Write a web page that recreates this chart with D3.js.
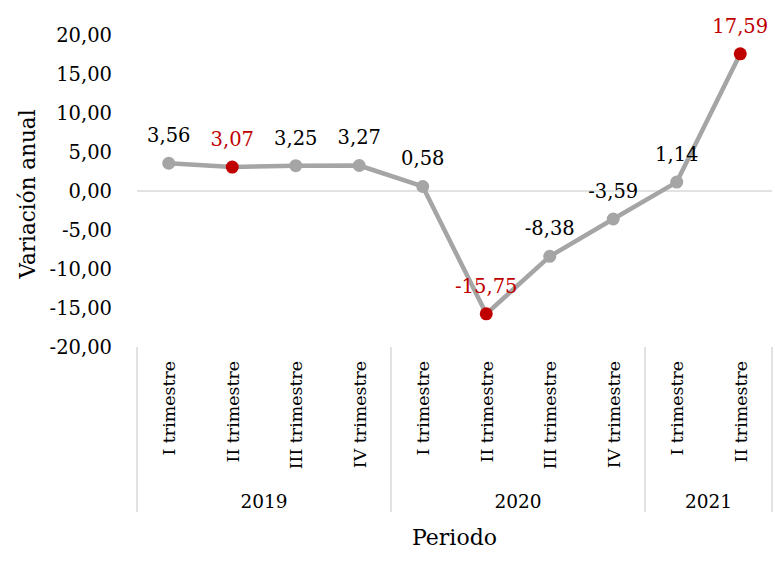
<!DOCTYPE html>
<html>
<head>
<meta charset="utf-8">
<script src="https://cdn.jsdelivr.net/npm/d3@7"></script>
<style>
  body { margin: 0; background: #fff; }
  text { font-family: "DejaVu Serif", serif; fill: #000; }
</style>
</head>
<body>
<script>
(function() {

    //chart data
    var quarters = ["I trimestre", "II trimestre", "III trimestre", "IV trimestre",
                    "I trimestre", "II trimestre", "III trimestre", "IV trimestre",
                    "I trimestre", "II trimestre"];
    var years = ["2019", "2020", "2021"];
    var yearCounts = [4, 4, 2];
    var values = [3.56, 3.07, 3.25, 3.27, 0.58, -15.75, -8.38, -3.59, 1.14, 17.59];
    var highlighted = [1, 5, 9]; //points drawn in red
    var yTicks = [20, 15, 10, 5, 0, -5, -10, -15, -20];

    var width = 775, height = 561;
    var left = 137, right = 772, top = 35, bottom = 347;

    var svg = d3.select("body")
        .append("svg")
        .attr("width", width)
        .attr("height", height);

    var fmt = function(v){ return d3.format(".2f")(v).replace(".", ",").replace("−", "-"); };

    //scales
    var x = d3.scaleBand()
        .domain(d3.range(values.length))
        .range([left, right]);

    var y = d3.scaleLinear()
        .domain([-20, 20])
        .range([bottom, top]);

    //y axis labels
    var yAxis = d3.axisLeft(y)
        .tickValues(yTicks)
        .tickSize(0)
        .tickPadding(0)
        .tickFormat(fmt);

    var ya = svg.append("g")
        .attr("transform", "translate(112,0)")
        .call(yAxis);
    ya.select(".domain").remove();
    ya.selectAll("text")
        .style("font-family", "DejaVu Serif")
        .style("font-size", "19.5px")
        .attr("dy", "0.35em");

    //zero line
    svg.append("line")
        .attr("x1", left).attr("x2", right)
        .attr("y1", y(0)).attr("y2", y(0))
        .style("stroke", "#d9d9d9")
        .style("stroke-width", 1.5);

    //group separators
    var bounds = [0];
    yearCounts.forEach(function(c, i){ bounds.push(bounds[i] + c); });
    var step = x.step();

    svg.selectAll(".sep")
        .data(bounds)
        .enter()
        .append("line")
        .attr("class", "sep")
        .attr("x1", function(d){ return left + d * step; })
        .attr("x2", function(d){ return left + d * step; })
        .attr("y1", bottom)
        .attr("y2", 512)
        .style("stroke", "#d9d9d9")
        .style("stroke-width", 1.5);

    //quarter labels
    svg.selectAll(".q")
        .data(quarters)
        .enter()
        .append("text")
        .attr("class", "q")
        .attr("transform", function(d, i){
            return "translate(" + (x(i) + step / 2 + 6.5) + ",361) rotate(-90)";
        })
        .attr("text-anchor", "end")
        .style("font-size", "17.4px")
        .text(function(d){ return d; });

    //year labels
    svg.selectAll(".yr")
        .data(years)
        .enter()
        .append("text")
        .attr("class", "yr")
        .attr("x", function(d, i){ return left + (bounds[i] + yearCounts[i] / 2) * step; })
        .attr("y", 508)
        .attr("text-anchor", "middle")
        .style("font-size", "18.5px")
        .text(function(d){ return d; });

    //axis titles
    svg.append("text")
        .attr("x", (left + right) / 2)
        .attr("y", 545)
        .attr("text-anchor", "middle")
        .style("font-size", "22px")
        .text("Periodo");

    svg.append("text")
        .attr("transform", "translate(35," + (y(0) + 3) + ") rotate(-90)")
        .attr("text-anchor", "middle")
        .style("font-size", "21.5px")
        .text("Variación anual");

    //line
    var line = d3.line()
        .x(function(d, i){ return x(i) + step / 2; })
        .y(function(d){ return y(d); });

    svg.append("path")
        .datum(values)
        .attr("d", line)
        .style("fill", "none")
        .style("stroke", "#a5a5a5")
        .style("stroke-width", 4.5)
        .style("stroke-linejoin", "round");

    //markers
    svg.selectAll(".pt")
        .data(values)
        .enter()
        .append("circle")
        .attr("class", "pt")
        .attr("cx", function(d, i){ return x(i) + step / 2; })
        .attr("cy", function(d){ return y(d); })
        .attr("r", 6.5)
        .style("fill", function(d, i){ return highlighted.indexOf(i) >= 0 ? "#c00000" : "#a5a5a5"; });

    //data labels
    svg.selectAll(".lbl")
        .data(values)
        .enter()
        .append("text")
        .attr("class", "lbl")
        .attr("x", function(d, i){ return x(i) + step / 2; })
        .attr("y", function(d){ return y(d) - 21; })
        .attr("text-anchor", "middle")
        .style("font-size", "19.5px")
        .style("fill", function(d, i){ return highlighted.indexOf(i) >= 0 ? "#c00000" : "#000"; })
        .text(function(d){ return fmt(d); });

})();
</script>
</body>
</html>
